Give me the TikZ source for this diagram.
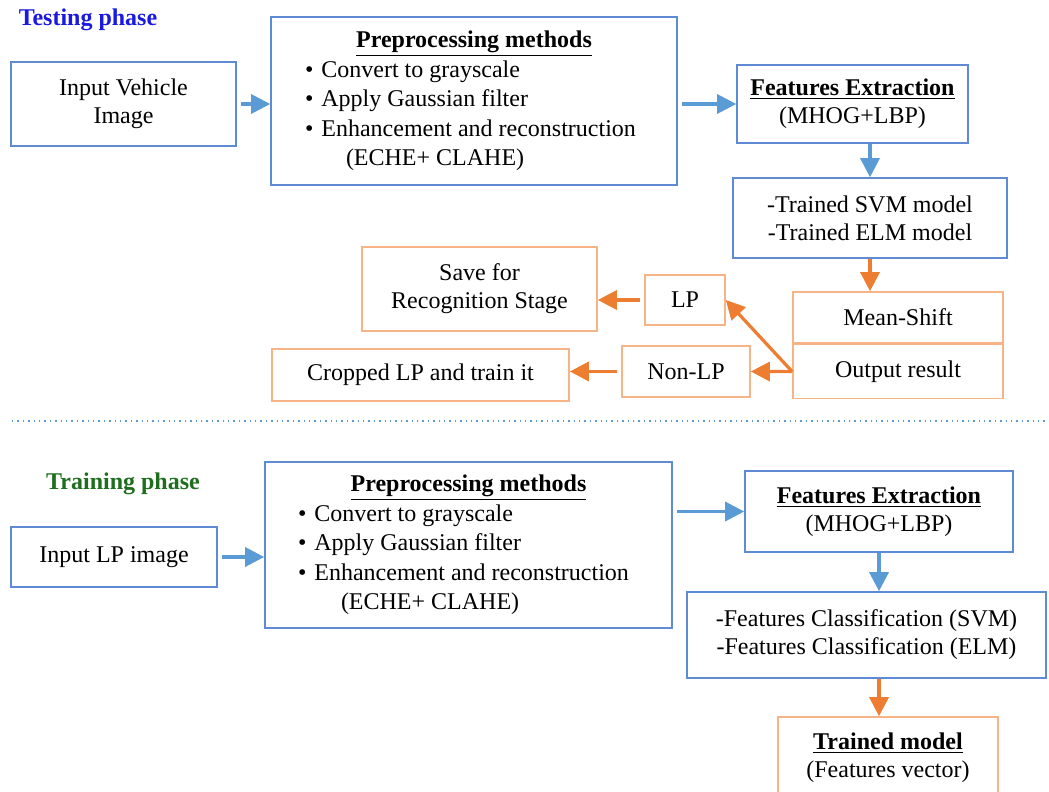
\documentclass[tikz,border=0pt]{standalone}
\usepackage{fontspec}
\setmainfont{Liberation Serif}
\usetikzlibrary{positioning,calc,arrows.meta}

\definecolor{boxblue}{RGB}{95,138,214}
\definecolor{arrblue}{RGB}{91,155,213}
\definecolor{arrorange}{RGB}{237,125,49}
\definecolor{boxorange}{RGB}{246,180,135}
\definecolor{testblue}{RGB}{25,25,225}
\definecolor{traingreen}{RGB}{30,110,30}

\tikzset{
  bluebox/.style={draw=boxblue, line width=0.8pt, align=center, text=black},
  orangebox/.style={draw=boxorange, line width=0.8pt, align=center, text=black},
  prebox/.style={bluebox, align=none, text width=203pt, inner xsep=0pt,
    minimum height=84pt, font=\fontsize{12}{14.75}\selectfont},
  bluearrow/.style={draw=arrblue, line width=1.6pt, shorten <=2pt,
    -{Triangle[length=9.5pt,width=9.5pt]}},
  orangearrow/.style={draw=arrorange, line width=1.6pt, shorten <=2pt,
    -{Triangle[length=9.5pt,width=9.5pt]}}
}

\begin{document}
\fontsize{12}{14}\selectfont
\begin{tikzpicture}[x=0.5pt, y=-0.5pt]
  \useasboundingbox (0,0) rectangle (1049,792);

        %testing phase
        \node[font=\bfseries, text=testblue] (testing) at (88,20) {Testing phase};

        %input vehicle image
        \node[bluebox, minimum width=112.5pt, minimum height=42pt] (ivi) at (123.5,104) {Input Vehicle\\Image};

        %preprocessing
        \node[prebox] (preT) at (474,101) {%
          {\centering\underline{\textbf{Preprocessing methods}}\par}
          \raggedright
          \hspace*{17pt}\textbullet\hspace{4pt}Convert to grayscale\par
          \hspace*{17pt}\textbullet\hspace{4pt}Apply Gaussian filter\par
          \hspace*{17pt}\textbullet\hspace{4pt}Enhancement and reconstruction\par
          \hspace*{37.5pt}(ECHE+ CLAHE)\par};

        %features extraction
        \node[bluebox, minimum width=115.5pt, minimum height=39pt] (feT) at (852.5,104) {\underline{\textbf{Features Extraction}}\\(MHOG+LBP)};

        %trained models
        \node[bluebox, minimum width=137pt, minimum height=40pt] (svm) at (870,218) {-Trained SVM model\\-Trained ELM model};

        %mean shift and output
        \node[orangebox, minimum width=105pt, minimum height=25.5pt] (ms) at (898,317.5) {Mean-Shift};
        \node[orangebox, minimum width=105pt, minimum height=27pt,
          below = 0pt of ms] (out) {Output result};

        %results
        \node[orangebox, minimum width=40pt, minimum height=25pt] (lp) at (685,300) {LP};
        \node[orangebox, minimum width=117.5pt, minimum height=42pt] (save) at (479.5,289) {Save for\\Recognition Stage};
        \node[orangebox, minimum width=64pt, minimum height=25.5pt] (nonlp) at (686,371.5) {Non-LP};
        \node[orangebox, minimum width=148.5pt, minimum height=26pt] (crop) at (420.5,375) {Cropped LP and train it};

        \path
            (ivi.east) edge[bluearrow] (ivi.east -| preT.west)
            (preT.east |- feT.west) edge[bluearrow] (feT.west)
            (feT.south -| svm.north) edge[bluearrow, shorten <=0pt] (svm.north)
            (svm.south) edge[orangearrow, shorten <=0pt] (svm.south |- ms.north)

            %output to LP / non-LP
            (out.west) edge[orangearrow, shorten <=0pt] (lp.east)
            (out.west) edge[orangearrow, shorten <=0pt] (nonlp.east)
            (lp.west) edge[orangearrow] (lp.west -| save.east)
            (nonlp.west) edge[orangearrow] (nonlp.west -| crop.east)
            ;

        %separator
        \draw[arrblue, dotted, line width=0.7pt] (12,421) -- (1049,421);

        %training phase
        \node[font=\bfseries, text=traingreen] (training) at (123,484) {Training phase};

        %input LP image
        \node[bluebox, minimum width=103pt, minimum height=30pt] (ilp) at (114,557) {Input LP image};

        %preprocessing
        \node[prebox, text width=203.5pt, minimum height=83pt] (preB) at (468.5,545) {%
          {\centering\underline{\textbf{Preprocessing methods}}\par}
          \raggedright
          \hspace*{16.5pt}\textbullet\hspace{4pt}Convert to grayscale\par
          \hspace*{16.5pt}\textbullet\hspace{4pt}Apply Gaussian filter\par
          \hspace*{16.5pt}\textbullet\hspace{4pt}Enhancement and reconstruction\par
          \hspace*{38pt}(ECHE+ CLAHE)\par};

        %features extraction
        \node[bluebox, minimum width=134pt, minimum height=40.5pt] (feB) at (879,511.5) {\underline{\textbf{Features Extraction}}\\(MHOG+LBP)};

        %classification
        \node[bluebox, minimum width=179.5pt, minimum height=43pt] (fc) at (866.5,635) {-Features Classification (SVM)\\-Features Classification (ELM)};

        %trained model
        \node[orangebox, minimum width=110pt, minimum height=41pt] (tm) at (888,758) {\underline{\textbf{Trained model}}\\(Features vector)};

        \path
            (ilp.east) edge[bluearrow] (ilp.east -| preB.west)
            (preB.east |- feB.west) edge[bluearrow] (feB.west)
            (feB.south) edge[bluearrow, shorten <=0pt] (feB.south |- fc.north)
            (feB.south |- fc.south) edge[orangearrow, shorten <=0pt] (feB.south |- tm.north)
            ;

\end{tikzpicture}
\end{document}
